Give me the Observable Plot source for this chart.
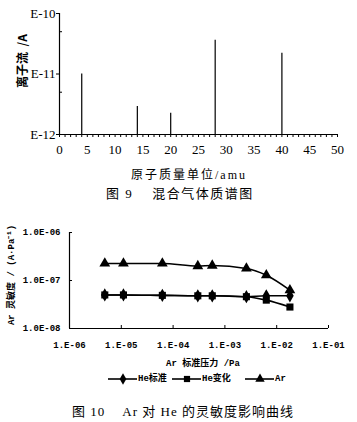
<!DOCTYPE html>
<html><head><meta charset="utf-8">
<script src="https://cdn.jsdelivr.net/npm/d3@7"></script>
<script src="https://cdn.jsdelivr.net/npm/@observablehq/plot@0.6"></script>
<style>
body{margin:0;background:#fff;}
#root{position:relative;width:357px;height:422px;overflow:hidden;background:#fff;}
.abs{position:absolute;white-space:pre;color:#000;line-height:1;}
.c{transform:translate(-50%,-50%);}
.rot{transform:translate(-50%,-50%) rotate(-90deg);}
.plot{position:absolute;left:0;}
</style></head><body><div id="root"></div>
<script>
// ---- Figure 9: mass spectrum ----
const massAmu = [4, 14, 20, 28, 40];
const ionCurrent = [1.0e-11, 2.9e-12, 2.25e-12, 3.6e-11, 2.2e-11];
const fig9YTicks = [1e-12, 1e-11, 1e-10];
const fig9YTickLabels = ["E-12", "E-11", "E-10"];
const fig9MinorY = [5e-12, 5e-11];

// ---- Figure 10: sensitivity vs Ar pressure ----
const arPressure = [4.8e-6, 1.1e-5, 6.2e-5, 3.0e-4, 5.7e-4, 2.6e-3, 6.3e-3, 1.8e-2];
const heStandard = [5.0e-8, 5.0e-8, 4.9e-8, 4.8e-8, 4.8e-8, 4.6e-8, 4.8e-8, 4.8e-8];
const heChange   = [5.0e-8, 5.0e-8, 4.9e-8, 4.8e-8, 4.8e-8, 4.6e-8, 3.9e-8, 2.8e-8];
const arSens     = [2.26e-7, 2.26e-7, 2.26e-7, 2.0e-7, 2.05e-7, 1.78e-7, 1.29e-7, 6.3e-8];
const seriesNames = ["He标准", "He变化", "Ar"];
const seriesSymbols = ["diamond", "square", "triangle"];
const fig10XTicks = [1e-6, 1e-5, 1e-4, 1e-3, 1e-2, 1e-1];
const fig10XTickLabels = ["1.E-06", "1.E-05", "1.E-04", "1.E-03", "1.E-02", "1.E-01"];
const fig10YTicks = [1e-8, 1e-7, 1e-6];
const fig10YTickLabels = ["1.0E-08", "1.0E-07", "1.0E-06"];

const root = document.getElementById("root");
function addText(txt, x, y, cls, style) {
  const d = document.createElement("div");
  d.className = "abs " + cls;
  d.style.left = x + "px"; d.style.top = y + "px";
  Object.assign(d.style, style || {});
  d.textContent = txt;
  root.appendChild(d);
  return d;
}

// Figure 9
const spec = massAmu.map((m, i) => ({m, v: ionCurrent[i]}));
const f9W = 357, f9ML = 59, f9MR = 20;
const p1 = Plot.plot({
  width: f9W, height: 160,
  marginLeft: f9ML, marginRight: f9MR, marginTop: 13, marginBottom: 26,
  style: {background: "white", color: "black", fontFamily: "'Liberation Serif', serif"},
  x: {domain: [0, 50]},
  y: {type: "log", domain: [1e-12, 1e-10]},
  marks: [
    Plot.ruleY([1e-12], {stroke: "black", strokeWidth: 1.2}),
    Plot.ruleX([0], {stroke: "black", strokeWidth: 1.2}),
    Plot.axisX({ticks: d3.range(0, 51, 1), tickSize: 3, tickPadding: 7,
      tickFormat: d => d % 5 === 0 ? String(d) : "", fontSize: 13, label: null}),
    Plot.axisY({ticks: fig9YTicks, tickSize: 3, tickPadding: 1,
      tickFormat: d => fig9YTickLabels[fig9YTicks.indexOf(d)], fontSize: 13, label: null}),
    Plot.tickY(fig9MinorY, {y: d => d, stroke: "black", insetRight: f9W - f9ML - f9MR - 3}),
    Plot.ruleX(spec, {x: "m", y1: 1e-12, y2: "v", stroke: "black", strokeWidth: 1.2})
  ]
});
p1.classList.add("plot"); p1.style.top = "0px";
root.appendChild(p1);

addText("离子流  /A", 22, 61, "rot", {fontFamily: "'Noto Sans CJK SC'", fontSize: "12px", fontWeight: "bold"});
addText("原子质量单位/amu", 189, 175, "c", {fontFamily: "'Liberation Serif','Noto Sans CJK SC'", fontSize: "12px", letterSpacing: "2px"});
addText("图 9    混合气体质谱图", 180, 193, "c", {fontFamily: "'Liberation Serif','Noto Sans CJK SC'", fontSize: "13px", letterSpacing: "1.5px"});

// Figure 10
const valuesBySeries = [heStandard, heChange, arSens];
const rows = [];
seriesNames.forEach((s, k) => arPressure.forEach((p, i) => rows.push({s, p, v: valuesBySeries[k][i]})));
const f10W = 357, f10ML = 69, f10MR = 29, f10MT = 10, f10MB = 24, f10H = 130;
const p2 = Plot.plot({
  width: f10W, height: f10H,
  marginLeft: f10ML, marginRight: f10MR, marginTop: f10MT, marginBottom: f10MB,
  style: {background: "white", color: "black", fontFamily: "'Liberation Mono', monospace"},
  x: {type: "log", domain: [1e-6, 1e-1]},
  y: {type: "log", domain: [1e-8, 1e-6]},
  symbol: {domain: seriesNames, range: seriesSymbols},
  marks: [
    Plot.ruleY([1e-8], {stroke: "black", strokeWidth: 1.2}),
    Plot.ruleX([1e-6], {stroke: "black", strokeWidth: 1.2}),
    Plot.axisX({ticks: fig10XTicks, tickSize: 0, tickPadding: 13, fontSize: 9, fontWeight: "bold",
      tickFormat: d => fig10XTickLabels[fig10XTicks.indexOf(d)], label: null}),
    Plot.tickX(fig10XTicks, {x: d => d, stroke: "black", insetTop: f10H - f10MT - f10MB - 3}),
    Plot.axisY({ticks: fig10YTicks, tickSize: 0, tickPadding: 9, fontSize: 9, fontWeight: "bold",
      tickFormat: d => fig10YTickLabels[fig10YTicks.indexOf(d)], label: null}),
    Plot.tickY(fig10YTicks, {y: d => d, stroke: "black", insetRight: f10W - f10ML - f10MR - 3}),
    Plot.line(rows, {x: "p", y: "v", z: "s", curve: "monotone-x", stroke: "black", strokeWidth: 1.6}),
    Plot.dot(rows, {x: "p", y: "v", symbol: "s", fill: "black", stroke: "none", r: 4})
  ]
});
p2.classList.add("plot"); p2.style.top = "222px";
root.appendChild(p2);

addText("Ar 灵敏度 / (A·Pa⁻¹)", 12, 275, "rot", {fontFamily: "'Liberation Mono','Noto Sans CJK SC'", fontSize: "9px", fontWeight: "bold"});
addText("Ar 标准压力 /Pa", 203, 364, "c", {fontFamily: "'Liberation Mono','Noto Sans CJK SC'", fontSize: "9px", fontWeight: "bold"});

// legend
const legendX = [108, 172, 245];
const symMap = {diamond: d3.symbolDiamond, square: d3.symbolSquare, triangle: d3.symbolTriangle};
seriesNames.forEach((s, k) => {
  const x0 = legendX[k];
  const svg = d3.create("svg").attr("width", 30).attr("height", 12)
    .style("position", "absolute").style("left", x0 + "px").style("top", (379 - 6) + "px");
  svg.append("line").attr("x1", 0).attr("x2", 29).attr("y1", 6).attr("y2", 6).attr("stroke", "black").attr("stroke-width", 1.6);
  svg.append("path").attr("transform", "translate(15,6)")
    .attr("d", d3.symbol(symMap[seriesSymbols[k]], 3.5 * 3.5 * Math.PI)()).attr("fill", "black");
  root.appendChild(svg.node());
  addText(s, x0 + 30, 373, "", {fontFamily: "'Liberation Mono','Noto Sans CJK SC'", fontSize: "9px", fontWeight: "bold", lineHeight: "12px"});
});

addText("图 10    Ar 对 He 的灵敏度影响曲线", 183, 411, "c", {fontFamily: "'Liberation Serif','Noto Sans CJK SC'", fontSize: "13px", letterSpacing: "1px"});
</script></body></html>
